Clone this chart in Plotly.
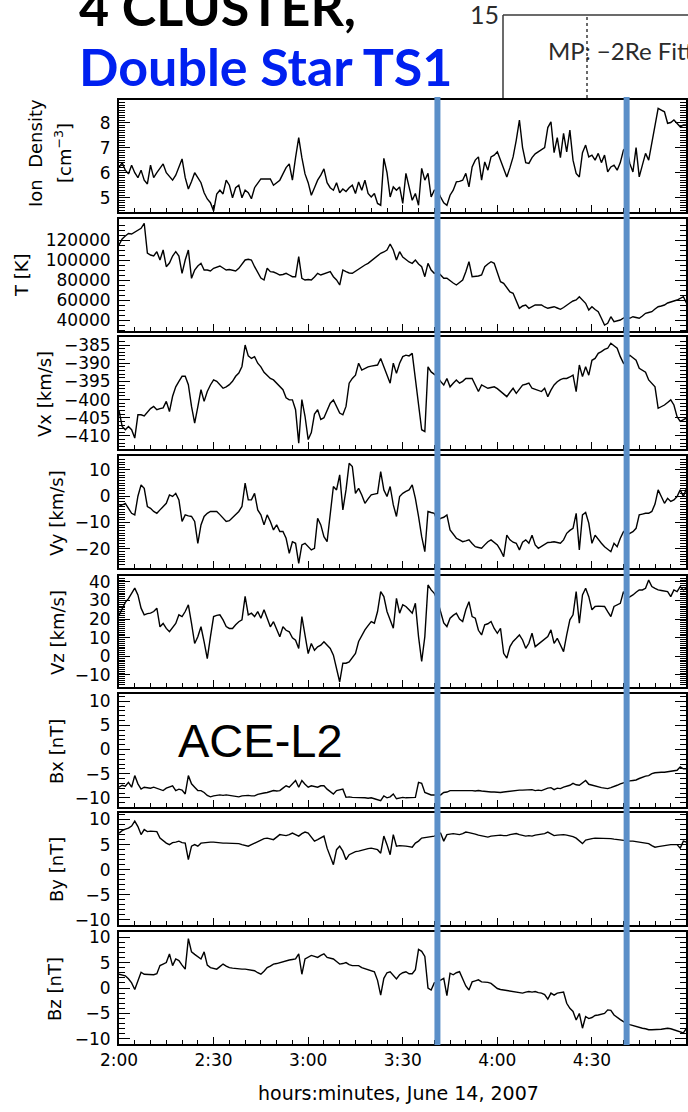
import pandas as pd
import plotly.graph_objects as go

W, H = 688, 1112

# ---- data: one-minute samples from 02:00 to 05:00 UT, 14 June 2007 ----
START = "2007-06-14 02:00"
N_SAMPLES = 181
EVENT_TIMES = ["2007-06-14 03:41", "2007-06-14 04:41"]

DENSITY = [
    6.2, 6.4, 6.1, 5.95, 6.3, 6.0, 5.8, 6.1, 5.7, 5.55,
    6.3, 5.8, 6.0, 6.2, 6.35, 6.0, 5.85, 5.7, 5.9, 6.2,
    6.55, 5.8, 5.35, 5.65, 6.0, 5.8, 5.6, 5.2, 4.95, 4.8,
    4.47, 5.15, 5.3, 5.15, 5.7, 5.5, 5.0, 5.4, 5.5, 5.0,
    5.3, 5.2, 4.96, 5.4, 5.6, 5.75, 5.75, 5.75, 5.75, 5.5,
    5.6, 5.7, 5.95, 6.2, 6.35, 5.7, 6.6, 7.4, 6.6, 5.95,
    5.6, 5.1, 5.4, 5.7, 5.9, 6.15, 5.6, 5.4, 5.3, 5.6,
    5.2, 5.35, 5.25, 5.4, 5.5, 5.17, 5.63, 5.3, 5.7, 5.17,
    5.03, 5.17, 4.77, 4.7, 6.57, 6.0, 5.03, 5.43, 5.3, 5.43,
    4.77, 5.97, 5.43, 4.9, 5.17, 4.7, 6.17, 5.7, 5.97, 5.03,
    5.3, 5.3, 5.03, 4.8, 4.7, 5.1, 5.3, 5.63, 5.65, 5.7,
    5.97, 5.43, 6.23, 6.5, 6.63, 5.7, 6.43, 6.1, 6.63, 6.7,
    6.83, 6.5, 6.1, 5.83, 6.2, 6.63, 7.3, 8.1, 7.0, 6.4,
    6.37, 6.6, 6.75, 6.83, 6.9, 7.0, 7.8, 8.03, 6.8, 7.4,
    6.6, 7.57, 6.83, 7.7, 6.5, 5.97, 5.83, 6.8, 7.1, 6.63,
    6.7, 6.5, 6.77, 6.4, 6.7, 6.03, 6.23, 6.3, 6.1, 6.4,
    6.9, 7.03, 6.37, 6.03, 7.0, 5.83, 6.3, 6.77, 6.5, 7.2,
    7.97, 8.57, 8.5, 8.43, 7.97, 8.0, 8.1, 7.97, 7.83, 7.9,
    7.9,
]

TEMP = [
    115000, 121000, 124000, 126500, 126000, 128000, 130500, 131700, 136700, 107000,
    105000, 104000, 108300, 100000, 110000, 93300, 97000, 104000, 108300, 104000,
    86700, 100000, 110000, 81700, 90000, 94000, 96700, 90000, 90000, 89000,
    91700, 93000, 94000, 92000, 90000, 90500, 90000, 89000, 91700, 96000,
    100000, 100700, 100000, 93300, 88300, 82000, 80000, 91700, 88300, 88000,
    86700, 85000, 85500, 86700, 85000, 83300, 83300, 103300, 81700, 80000,
    80500, 80000, 83000, 86700, 85000, 86000, 87500, 88300, 83300, 80000,
    75000, 90000, 88300, 87000, 86700, 89000, 91000, 93300, 95000, 96700,
    99000, 101700, 104000, 106700, 108000, 110000, 116000, 110000, 100000, 108300,
    103000, 100000, 98000, 96700, 100000, 96000, 93300, 83300, 96700, 90000,
    86700, 88300, 85000, 81700, 81700, 79000, 77000, 75000, 78000, 80000,
    88300, 98300, 83300, 83300, 84000, 85000, 93300, 96000, 98300, 96700,
    86700, 78300, 76700, 71700, 68000, 66700, 60000, 51700, 54000, 55000,
    51700, 53000, 55000, 55000, 55000, 53000, 51700, 52500, 53300, 52000,
    50700, 52500, 55000, 57000, 59000, 60000, 63300, 60000, 56700, 50000,
    53300, 50500, 48300, 41700, 35000, 36700, 43300, 38300, 39000, 40000,
    42000, 43300, 41700, 43300, 42500, 41700, 44000, 46700, 47500, 48300,
    51000, 53300, 54000, 55000, 57000, 58300, 59000, 60000, 61500, 63300,
    56700,
]

VX = [
    -403, -407.4, -408.3, -407.4, -408.3, -410.6, -404.2, -404.2, -404.5, -403.5,
    -402.5, -401.9, -402.8, -402.5, -402.3, -400.5, -403.3, -399.1, -396.5, -395,
    -393.6, -393.6, -395.9, -401.9, -406.5, -402, -397.3, -400.5, -397.8, -396,
    -394.6, -395, -395.9, -396.9, -396.5, -395.9, -395, -393.6, -392.7, -390.9,
    -385, -388, -388.7, -388.2, -390, -391, -392.5, -393.4, -394.2, -394.6,
    -395.5, -396.5, -397.3, -399.5, -400.1, -400.1, -402.8, -412, -400, -404.6,
    -411, -409.1, -404, -402.8, -405.5, -405, -402.8, -401, -400.1, -401.9,
    -403.7, -404.2, -401.9, -395.5, -394.2, -393.3, -390, -391.9, -391.4, -391,
    -390.8, -390.6, -390.5, -388.7, -391, -393.7, -395.5, -390, -392.8, -390,
    -388.2, -387.8, -388, -387.3, -394.6, -401.9, -408.3, -408.8, -391, -392.4,
    -393, -393.7, -395, -396, -394.2, -396.5, -395.5, -394.6, -395.5, -395,
    -394.2, -394.2, -394.2, -396, -397.8, -396, -396.5, -396.9, -396.7, -396.5,
    -397, -397.8, -398.5, -399.2, -398, -396.9, -398.3, -397, -396, -395.8,
    -395.5, -396.9, -397.2, -397.4, -397.8, -396.9, -399.2, -397.4, -396, -395.1,
    -394.5, -394.2, -394.2, -393.8, -393.3, -397.8, -390.5, -393.7, -391, -393.3,
    -389.2, -388.7, -387.3, -386.8, -386.2, -385.9, -384.5, -385.2, -385.9, -388.2,
    -390, -389, -387.8, -388.5, -389.2, -391.4, -391.9, -392.5, -394.6, -395.5,
    -396.5, -402.4, -402, -401.5, -400.8, -400.1, -401.5, -404.7, -406, -405.5,
    -405.1,
]

VY = [
    -3.9, -3.3, -2.7, -4.6, -6.5, -7.1, 0, 4.3, 3.0, -3.9,
    -4.6, -5.8, -6.5, -5.2, -4.0, -2.7, 0.5, -0.1, 1.1, -1.4,
    -9.6, -7.1, -7.5, -7.7, -9.6, -17.9, -10.9, -7.7, -6.5, -5.8,
    -5.8, -5.8, -7.0, -8.5, -9.6, -9.3, -8.0, -7.1, -5.8, -3.9,
    5.0, -1.4, -1.4, 1.1, -5.2, -7.1, -10.9, -7.1, -9.6, -12.8,
    -10.9, -13.4, -13.4, -16.0, -21.7, -17.3, -17.9, -25.5, -18.5, -17.9,
    -19.0, -20.4, -19.8, -8.4, -10.9, -15.4, -17.3, -7.1, 3.7, 2.4,
    8.1, -5.2, 2.4, 12.5, 11.3, 1.1, 3.0, 0.5, -2.7, -1.0,
    0.5, 0.8, 1.1, 9.4, 2.4, -0.1, 3.7, -3.3, -7.7, -0.1,
    1.1, 1.8, 2.4, 4.3, -0.8, -7.7, -15.4, -21.1, -5.8, -6.2,
    -6.5, -9.6, -8.4, -8.0, -7.1, -12.8, -14.5, -16.0, -16.6, -17.3,
    -17.0, -16.6, -18.0, -19.2, -19.5, -19.8, -18.5, -17.3, -16.6, -17.5,
    -18.5, -20.5, -23.0, -14.8, -16.6, -17.5, -17.9, -20.4, -17.5, -16.6,
    -17.9, -14.8, -18.5, -19.8, -19.0, -18.5, -17.6, -17.5, -17.3, -17.6,
    -17.9, -16.6, -14.1, -13.0, -12.2, -6.5, -20.4, -7.1, -6.2, -10.2,
    -17.9, -14.8, -16.5, -17.9, -19.2, -20.0, -21.1, -17.9, -19.2, -16.0,
    -13.5, -14.8, -14.0, -13.5, -12.2, -7.1, -6.8, -6.5, -6.5, -5.8,
    -3.0, 2.4, -0.1, -2.7, -0.8, -2.0, -1.4, -0.1, 2.4, -0.1,
    3.0,
]

VZ = [
    22, 26, 29, 31, 34, 36.7, 33, 25.9, 22.3, 23,
    23.2, 24.1, 25.9, 15.9, 17.7, 15, 13.2, 15.5, 17.7, 22.3,
    21.4, 24.1, 27.7, 17.7, 6.9, 10.5, 15.9, 7.8, -1.2, 10.5,
    21.4, 22, 22.3, 19.6, 16, 15, 15, 17, 18.6, 19.6,
    32.2, 22.3, 23.2, 21.4, 24.1, 20.5, 25, 20.5, 15.9, 18.6,
    14, 10.5, 15.9, 14, 13.2, 10, 8.7, 4.2, 21.4, 10.5,
    1.5, 6.9, 3.3, 5.1, 6, 7.8, 6, 4.2, 0.6, -6,
    -13.8, -3.7, -3.7, -3.0, -1.0, 1.6, 8.0, 11.5, 14.2, 16.5,
    18.7, 17.8, 24.1, 34.8, 32.1, 24.1, 19, 15.1, 31.2, 23.2,
    27.7, 26.8, 25, 23.2, 28.5, 10.6, -2.8, 10.6, 38.4, 35.7,
    33.9, 30, 24, 18, 16, 20.5, 22, 23.2, 20, 18.7,
    25, 29.4, 21.4, 20.5, 14, 11.5, 16.9, 17.5, 18.7, 15,
    12.4, 15.1, 1.6, -1, 5.2, 8, 9.7, 11.5, 8.8, 4.3,
    7, 12.4, 5.2, 6.5, 7.9, 9.5, 10.6, 14.2, 7, 9.7,
    6, 2.5, 11.5, 19.6, 22.3, 34.8, 17.8, 33, 36.6, 32.1,
    25, 26.8, 27, 27.1, 26.8, 24, 21.4, 26.8, 27.5, 28.5,
    34.8, 31.2, 32, 33, 34.5, 35.7, 35.7, 36.6, 41, 37.5,
    36.5, 35.7, 35.4, 35, 34.8, 32.1, 35.7, 34.8, 37.5, 35.7,
    36.6,
]

BX = [
    -7.8, -7.4, -7.6, -6.8, -7.8, -5.4, -7.1, -8.2, -7.8, -7.9,
    -8.0, -7.8, -8.0, -8.2, -8.5, -8.0, -7.8, -7.5, -8.5, -8.2,
    -8.4, -9.2, -5.4, -7.1, -7.8, -8.5, -8.5, -8.9, -9.5, -9.8,
    -9.6, -9.5, -9.4, -9.5, -9.4, -9.5, -9.6, -9.7, -9.8, -9.6,
    -9.5, -9.5, -9.6, -9.6, -9.3, -9.1, -9.0, -8.9, -8.7, -8.5,
    -8.6, -8.5, -8.0, -7.5, -7.8, -7.0, -6.4, -7.8, -6.4, -7.2,
    -7.8, -7.5, -7.6, -7.8, -7.5, -7.5, -8.2, -8.8, -9.2, -8.5,
    -8.4, -8.2, -9.9, -9.8, -9.9, -9.9, -10.0, -9.9, -10.0, -10.1,
    -10.0, -10.2, -10.4, -10.6, -9.6, -10.0, -9.8, -9.2, -10.2, -10.0,
    -9.9, -10.0, -10.0, -9.9, -9.9, -6.8, -7.0, -8.9, -9.2, -9.4,
    -9.4, -9.4, -9.4, -8.9, -8.8, -8.5, -8.5, -8.4, -8.4, -8.5,
    -8.4, -8.5, -8.5, -8.6, -8.5, -8.6, -8.7, -8.7, -8.8, -8.8,
    -8.9, -8.9, -8.8, -8.7, -8.6, -8.5, -8.5, -8.4, -8.4, -8.4,
    -8.4, -8.3, -8.5, -8.4, -8.5, -8.2, -8.0, -7.9, -8.3, -8.0,
    -8.1, -7.8, -7.6, -7.4, -7.0, -7.3, -7.4, -6.8, -6.4, -7.2,
    -7.4, -7.6, -7.7, -7.9, -8.0, -8.1, -7.9, -7.7, -7.4, -7.1,
    -6.9, -6.6, -6.5, -6.4, -6.3, -6.0, -5.7, -5.5, -5.4, -5.0,
    -4.8, -4.7, -4.7, -4.7, -4.6, -4.4, -4.3, -4.3, -3.6, -4.0,
    -4.0,
]

BY = [
    7.3, 7.8, 8.1, 8.3, 8.7, 9.7, 8.6, 7.0, 8.0, 7.6,
    7.7, 7.7, 7.6, 6.3, 5.7, 5.3, 5.0, 5.4, 5.5, 5.7,
    5.4, 5.3, 2.0, 4.7, 5.0, 4.7, 5.3, 5.4, 5.5, 5.5,
    5.5, 5.4, 5.4, 5.3, 5.3, 5.3, 5.3, 5.2, 5.2, 5.0,
    4.8, 4.7, 5.0, 5.3, 5.6, 6.0, 6.2, 6.3, 6.1, 6.0,
    6.5, 7.0, 6.9, 6.8, 7.0, 7.3, 7.0, 6.7, 7.2, 7.5,
    7.3, 6.5, 5.7, 6.0, 6.3, 6.7, 4.3, 2.7, 1.0, 4.0,
    4.7, 3.7, 2.0, 3.0, 3.3, 3.6, 3.7, 3.9, 4.0, 4.2,
    4.3, 4.1, 4.0, 3.3, 6.7, 5.0, 3.0, 7.0, 4.7, 4.8,
    4.8, 4.7, 4.6, 4.5, 5.3, 5.7, 6.3, 6.4, 6.5, 6.6,
    6.7, 7.0, 7.3, 5.7, 7.0, 7.1, 7.2, 7.1, 7.0, 7.2,
    7.5, 7.4, 7.3, 7.1, 6.9, 6.8, 6.7, 6.5, 6.7, 6.8,
    6.8, 6.9, 6.8, 6.8, 7.0, 7.1, 7.2, 7.0, 6.8, 6.7,
    6.8, 6.7, 6.9, 7.0, 7.0, 7.2, 7.5, 7.1, 6.8, 6.9,
    7.0, 7.0, 6.9, 6.8, 6.6, 6.3, 5.8, 5.2, 5.9, 6.1,
    6.2, 6.3, 6.3, 6.3, 6.3, 6.2, 6.2, 6.1, 6.0, 5.9,
    5.8, 5.7, 5.7, 5.7, 5.6, 5.5, 5.4, 5.3, 5.2, 4.8,
    4.5, 4.6, 4.7, 4.8, 5.0, 5.0, 5.0, 5.0, 4.3, 5.7,
    5.5,
]

BZ = [
    2.7, 2.5, 2.4, 1.8, 1.0, -0.3, 1.4, 3.1, 2.7, 2.7,
    2.7, 2.6, 2.8, 4.4, 4.7, 5.0, 6.7, 4.4, 5.7, 5.4,
    4.5, 3.7, 9.7, 7.1, 6.6, 6.2, 5.7, 7.1, 4.5, 4.0,
    3.8, 3.7, 4.2, 4.7, 4.3, 4.0, 3.9, 3.8, 3.8, 3.7,
    3.7, 3.6, 3.5, 3.4, 3.0, 2.7, 3.3, 4.0, 4.3, 4.7,
    4.8, 5.0, 5.2, 5.4, 5.5, 5.6, 5.7, 6.7, 2.7, 5.7,
    6.0, 6.4, 6.2, 6.0, 6.4, 6.7, 6.0, 5.8, 5.7, 5.2,
    4.7, 4.8, 5.0, 4.6, 4.4, 4.4, 4.4, 4.0, 3.8, 3.7,
    3.4, 3.2, 1.5, -1.4, 1.9, 3.0, 3.2, 2.6, 1.8, 2.6,
    3.0, 3.2, 2.8, 2.8, 3.6, 7.6, 7.2, 6.2, 0.0, -0.4,
    1.0, 1.2, 1.5, 1.9, -1.5, 2.9, 2.6, 3.0, 3.2, 1.9,
    0.4, -0.4, 1.2, 1.4, 1.6, 1.2, 1.2, 1.1, 0.9, 0.3,
    -0.1, -0.3, -0.4, -0.5, -0.5, -0.7, -0.7, -0.8, -1.0, -0.8,
    -0.7, -0.8, -0.7, -0.9, -1.0, -1.3, -2.2, -1.0, -1.4, -1.0,
    -0.9, -0.8, -3.0, -4.0, -4.6, -6.3, -5.0, -7.9, -5.6, -6.0,
    -5.8, -5.4, -5.3, -5.1, -5.0, -4.3, -4.4, -5.3, -5.8, -6.2,
    -6.6, -7.0, -7.2, -7.4, -7.5, -7.7, -7.9, -8.0, -8.2, -8.2,
    -8.2, -8.2, -8.1, -8.0, -7.9, -8.0, -8.2, -8.3, -8.6, -8.8,
    -7.9,
]

SERIES = [DENSITY, TEMP, VX, VY, VZ, BX, BY, BZ]

# y-axis ranges and labelled tick values of the eight panels
Y_RANGES = [
    [4.43, 8.9], [29000, 141000], [-413.6, -382.8], [-27.3, 15.3],
    [-16.5, 43.2], [-11.9, 11.5], [-11.0, 11.3], [-11.0, 11.0],
]
Y_TICKS = [
    [5, 6, 7, 8], [40000, 60000, 80000, 100000, 120000],
    [-410, -405, -400, -395, -390, -385], [-20, -10, 0, 10],
    [-10, 0, 10, 20, 30, 40], [-10, -5, 0, 5, 10], [-10, -5, 0, 5, 10],
    [-10, -5, 0, 5, 10],
]
Y_MINOR = [0.1, 5000, 1, 1, 1, 1, 1, 1]

Y_TITLES = ["Ion  Density", "T [K]", "Vx [km/s]", "Vy [km/s]", "Vz [km/s]",
            "Bx [nT]", "By [nT]", "Bz [nT]"]
DENSITY_UNIT = "[cm<sup>−3</sup>]"
X_TITLE = "hours:minutes, June 14, 2007"

# ---- layout geometry (pixels) ----
PLOT_LEFT, PLOT_RIGHT = 119, 686
PANEL_PX = [(100, 212), (219, 331), (337, 449), (456, 568),
            (576, 687), (694, 807), (813, 925), (932, 1044)]
TITLE_POS = [(35, 153), (21, 275), (44, 394), (56, 513), (57, 632),
             (56, 752), (56, 870), (54, 989)]


def px_x(p):
    return p / W


def px_y(p):
    return 1 - p / H


times = pd.date_range(START, periods=N_SAMPLES, freq="min")
x_range = ["2007-06-14 02:00:00", "2007-06-14 04:59:50"]

TICK_FONT = dict(family="DejaVu Sans", size=17, color="black")
TITLE_FONT = dict(family="DejaVu Sans", size=18, color="black")

fig = go.Figure()
layout = dict(
    template="none",
    width=W, height=H, margin=dict(l=0, r=0, t=0, b=0, pad=0),
    paper_bgcolor="white", plot_bgcolor="white", showlegend=False,
)

for i, ys in enumerate(SERIES):
    k = "" if i == 0 else str(i + 1)
    fig.add_trace(go.Scatter(
        x=times, y=ys, mode="lines",
        line=dict(color="black", width=1.4),
        xaxis="x" + k, yaxis="y" + k, hoverinfo="skip",
    ))
    top, bot = PANEL_PX[i]
    layout["xaxis" + k] = dict(
        domain=[px_x(PLOT_LEFT), px_x(PLOT_RIGHT)], anchor="y" + k,
        type="date", range=x_range, automargin=False,
        showline=True, linecolor="black", linewidth=2, mirror=True,
        ticks="inside", ticklen=7, tickwidth=1, tickcolor="black",
        tick0=START, dtick=30 * 60 * 1000, tickformat="%-H:%M",
        showticklabels=(i == len(SERIES) - 1), tickfont=TICK_FONT,
        minor=dict(dtick=5 * 60 * 1000, tick0=START, ticks="inside",
                   ticklen=4, tickwidth=1, tickcolor="black"),
        showgrid=False, zeroline=False, fixedrange=True,
    )
    layout["yaxis" + k] = dict(
        domain=[px_y(bot), px_y(top)], anchor="x" + k,
        range=Y_RANGES[i], tickmode="array", tickvals=Y_TICKS[i],
        tickformat="d", automargin=False,
        showline=True, linecolor="black", linewidth=2, mirror="ticks",
        ticks="inside", ticklen=11, tickwidth=1, tickcolor="black",
        minor=dict(tickmode="linear", tick0=0, dtick=Y_MINOR[i],
                   ticks="inside", ticklen=6, tickwidth=1, tickcolor="black"),
        showgrid=False, zeroline=False, fixedrange=True,
        tickfont=TICK_FONT, ticklabelstandoff=3,
    )

annotations = []
for (cx, cy), text in zip(TITLE_POS, Y_TITLES):
    annotations.append(dict(
        text=text, x=px_x(cx), y=px_y(cy), xref="paper", yref="paper",
        xanchor="center", yanchor="middle", textangle=-90, showarrow=False,
        font=TITLE_FONT,
    ))
annotations.append(dict(
    text=DENSITY_UNIT, x=px_x(63), y=px_y(153), xref="paper", yref="paper",
    xanchor="center", yanchor="middle", textangle=-90, showarrow=False,
    font=TITLE_FONT,
))
annotations.append(dict(
    text=X_TITLE, x=px_x(398), y=px_y(1093), xref="paper", yref="paper",
    xanchor="center", yanchor="middle", showarrow=False,
    font=dict(family="DejaVu Sans", size=19, color="black"),
))
# headline and inset labels
annotations += [
    dict(text="<b>4 CLUSTER,</b>", x=px_x(77), y=px_y(39), xref="paper",
         yref="paper", xanchor="left", yanchor="bottom", showarrow=False,
         font=dict(family="Lato", size=52, color="black")),
    dict(text="<b>Double Star TS1</b>", x=px_x(77), y=px_y(99), xref="paper",
         yref="paper", xanchor="left", yanchor="bottom", showarrow=False,
         font=dict(family="Lato", size=52, color="rgb(0,32,240)")),
    dict(text="15", x=px_x(468), y=px_y(31), xref="paper", yref="paper",
         xanchor="left", yanchor="bottom", showarrow=False,
         font=dict(family="Lato", size=25, color="#2b2b2b")),
    dict(text="MP: −2Re Fitt", x=px_x(546), y=px_y(67), xref="paper",
         yref="paper", xanchor="left", yanchor="bottom", showarrow=False,
         font=dict(family="Lato", size=24, color="#2b2b2b")),
    dict(text="ACE-L2", x=px_x(176), y=px_y(769), xref="paper", yref="paper",
         xanchor="left", yanchor="bottom", showarrow=False,
         font=dict(family="Liberation Sans", size=47, color="black")),
]
layout["annotations"] = annotations

shapes = [
    dict(type="line", xref="paper", yref="paper", x0=px_x(503), x1=px_x(503),
         y0=px_y(98), y1=px_y(15), line=dict(color="#3a3a3a", width=1.5)),
    dict(type="line", xref="paper", yref="paper", x0=px_x(503), x1=px_x(690),
         y0=px_y(15), y1=px_y(15), line=dict(color="#3a3a3a", width=1.5)),
    dict(type="line", xref="paper", yref="paper", x0=px_x(587), x1=px_x(587),
         y0=px_y(98), y1=px_y(15),
         line=dict(color="#3a3a3a", width=1.5, dash="dot")),
]
for t in EVENT_TIMES:
    shapes.append(dict(
        type="line", xref="x", yref="paper", x0=t, x1=t,
        y0=px_y(1045), y1=px_y(97), layer="above",
        line=dict(color="rgb(91,143,200)", width=6),
    ))
layout["shapes"] = shapes

fig.update_layout(**layout)
fig.write_html("out.html")
